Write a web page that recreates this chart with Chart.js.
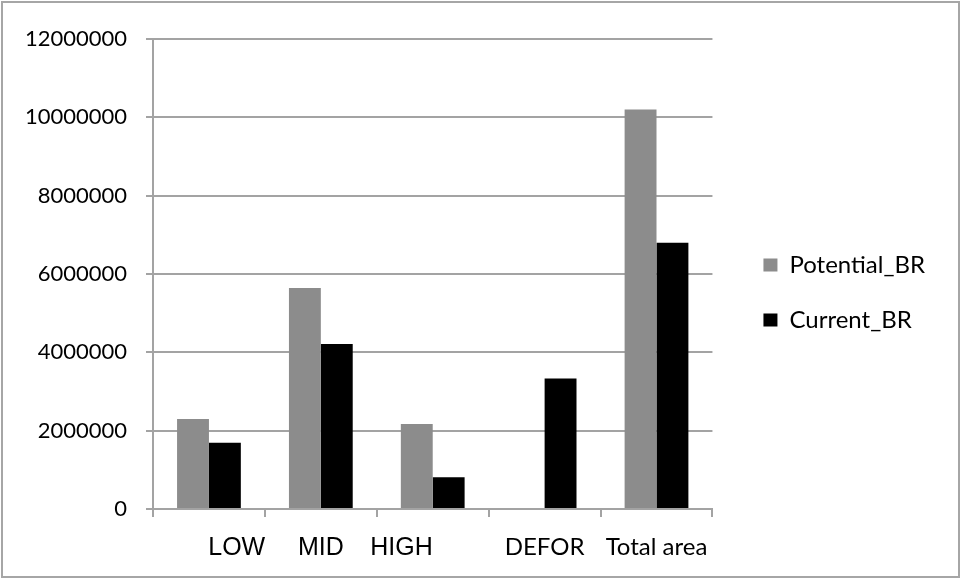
<!DOCTYPE html>
<html>
<head>
<meta charset="utf-8">
<script src="https://cdn.jsdelivr.net/npm/chart.js@4.4.1/dist/chart.umd.min.js"></script>
<style>
    html, body { margin: 0; padding: 0; background: #fff; }
    #wrap { width: 961px; height: 578px; }
</style>
</head>
<body>
<div id="wrap"><canvas id="myChart" width="961" height="578"></canvas></div>
<script>
// category labels (spaces keep the original off-centre placement)
const categories = ['        LOW', 'MID', 'HIGH         ', 'DEFOR', 'Total area'];
const potentialBR = [2300000, 5640000, 2170000, 0, 10200000];
const currentBR = [1690000, 4210000, 810000, 3330000, 6800000];
const yTicks = [0, 2000000, 4000000, 6000000, 8000000, 10000000, 12000000];

const lineGray = '#a3a3a3';

const frame = {
    id: 'frame',
    beforeDraw(chart) {
        const ctx = chart.ctx;
        ctx.save();
        ctx.fillStyle = '#fff';
        ctx.fillRect(0, 0, chart.width, chart.height);
        ctx.strokeStyle = '#a6a6a6';
        ctx.lineWidth = 2;
        ctx.strokeRect(2, 2, 957, 575);
        ctx.restore();
    }
};

const chartElement = document.querySelector('#myChart');

new Chart(chartElement, {
    type: 'bar',
    data: {
        labels: categories,
        datasets: [
            {
                label: 'Potential_BR',
                data: potentialBR,
                backgroundColor: '#8c8c8c',
                borderWidth: 0,
            },
            {
                label: 'Current_BR',
                data: currentBR,
                backgroundColor: '#000000',
                borderWidth: 0,
            }
        ]
    },
    options: {
        responsive: false,
        animation: false,
        layout: {
            padding: { top: 7, right: 26, bottom: 0, left: 0 }
        },
        datasets: {
            bar: { categoryPercentage: 0.57, barPercentage: 1 }
        },
        plugins: {
            tooltip: { enabled: false },
            legend: {
                position: 'right',
                maxWidth: 260,
                labels: {
                    boxWidth: 14,
                    boxHeight: 13,
                    padding: 31,
                    color: '#000',
                    font: { family: 'Lato', size: 24 }
                }
            }
        },
        scales: {
            x: {
                offset: true,
                grid: {
                    offset: true,
                    drawOnChartArea: false,
                    color: lineGray,
                    lineWidth: 2,
                    tickLength: 8
                },
                border: { color: lineGray, width: 2 },
                ticks: {
                    padding: 16,
                    color: '#000',
                    maxRotation: 0,
                    autoSkip: false,
                    font: (c) => c.index < 3
                        ? { family: 'Liberation Sans', size: 25 }
                        : { family: 'Lato', size: 24 }
                },
                afterFit(s) { s.height = 69; }
            },
            y: {
                min: 0,
                max: 12000000,
                afterBuildTicks(s) { s.ticks = yTicks.map(v => ({ value: v })); },
                grid: { color: lineGray, lineWidth: 2, tickLength: 7 },
                border: { color: lineGray, width: 2 },
                ticks: {
                    padding: 19,
                    color: '#000',
                    font: { family: 'Lato', size: 22 },
                    callback: (v) => String(v)
                },
                afterFit(s) {
                    s.width = 153;
                    s.paddingTop = 39;
                }
            },
            // empty strip between plot and legend
            gap: {
                type: 'linear',
                position: 'right',
                grid: { display: false },
                border: { display: false },
                ticks: { display: false },
                afterFit(s) { s.width = 20; }
            }
        }
    },
    plugins: [frame]
});
</script>
</body>
</html>
